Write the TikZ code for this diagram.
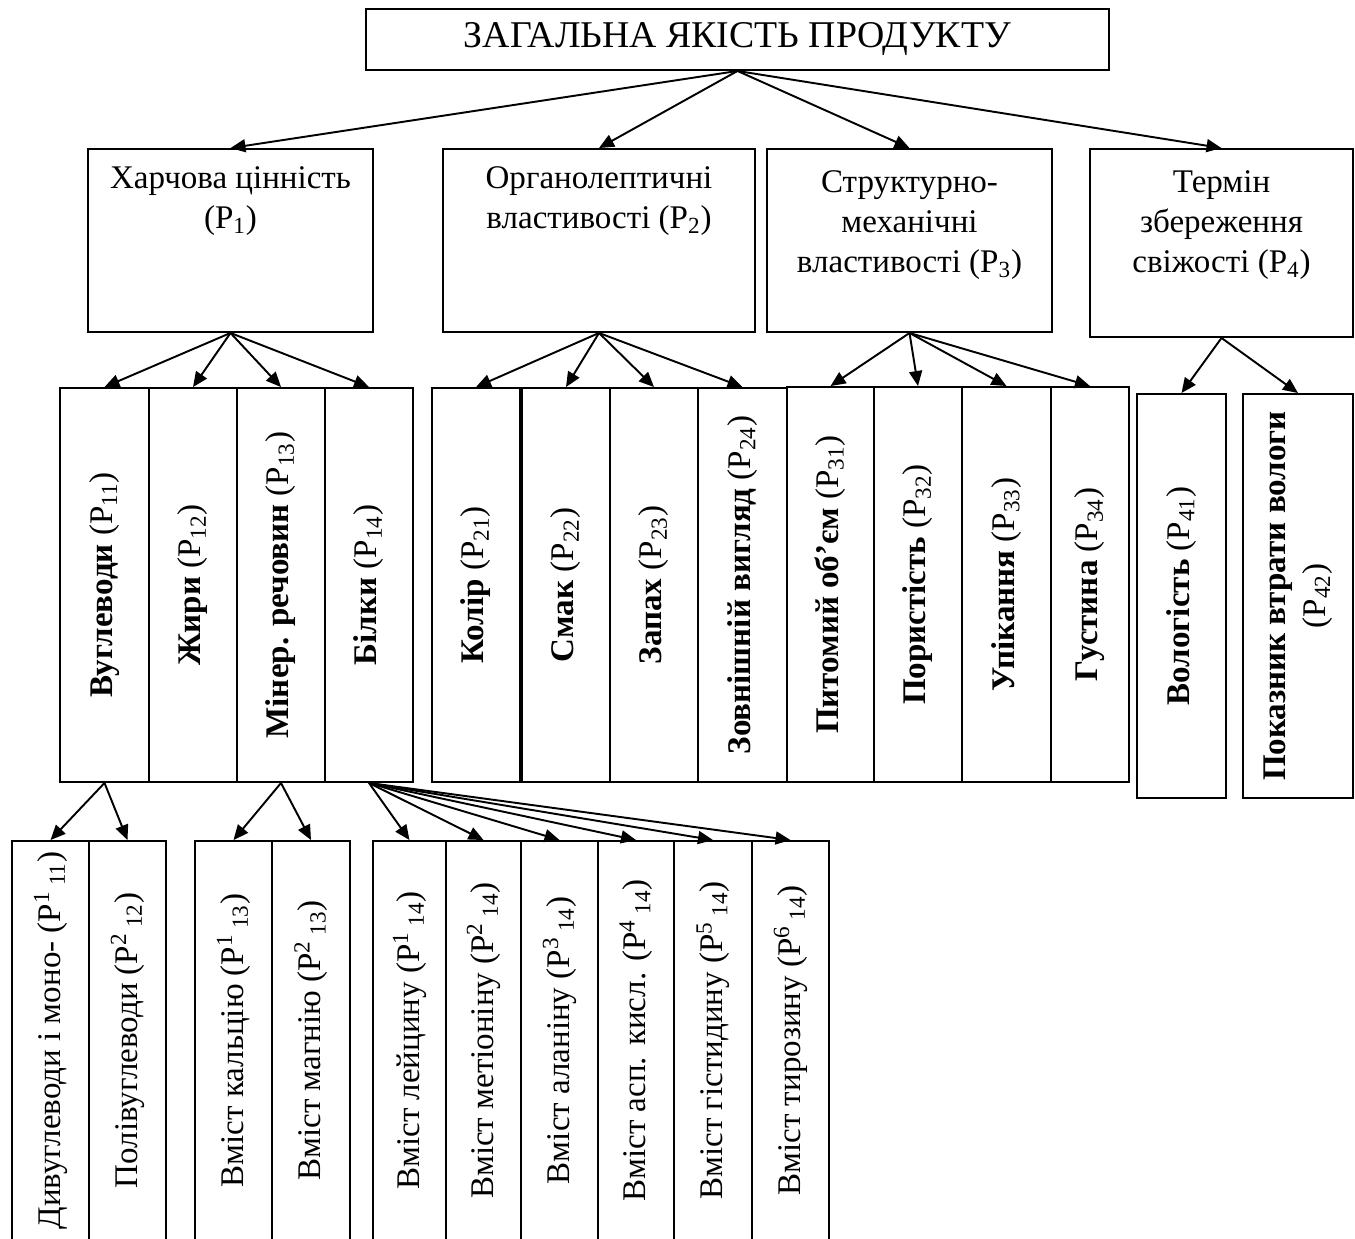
\documentclass[tikz,border=0pt]{standalone}
\usepackage{fontspec}
\setmainfont{Liberation Serif}
\usepackage{tikz}
\usetikzlibrary{arrows.meta, positioning, fit}
\tikzset{
  block/.style={rectangle, draw=black, line width=1.1pt, inner sep=0pt},
  txt/.style={inner sep=0pt, align=center, font=\fontsize{18.8}{22.8}\selectfont},
  vtxt/.style={txt, rotate=90},
  arrow/.style={-{Triangle[length=0.3cm, width=0.26cm]}, line width=1.1pt}
}

\begin{document}
\begin{tikzpicture}[x=0.02cm, y=-0.02cm]
  \clip (0,0) rectangle (1355,1238);

  % Top
  \node[block, fit={(366,9) (1109,70)}] (top) {};
  \node[txt, font=\fontsize{21.5}{26}\selectfont] (topt) at (top) {ЗАГАЛЬНА ЯКІСТЬ ПРОДУКТУ};

  % Groups of properties
  \node[block, fit={(88,149) (373,332)}] (p1) {};
  \node[block, fit={(443,149) (755,332)}] (p2) {};
  \node[block, fit={(767,149) (1052,332)}] (p3) {};
  \node[block, fit={(1090,149) (1353,337)}] (p4) {};
  \node[txt, below=0.36cm of p1.north] (p1t) {Харчова цінність\\(P\textsubscript{1})};
  \node[txt, below=0.36cm of p2.north] (p2t) {Органолептичні\\властивості (P\textsubscript{2})};
  \node[txt, below=0.44cm of p3.north] (p3t) {Структурно-\\механічні\\властивості (P\textsubscript{3})};
  \node[txt, below=0.44cm of p4.north] (p4t) {Термін\\збереження\\свіжості (P\textsubscript{4})};

  % Single properties
  \node[block, fit={(60,388) (149,782)}] (p11) {};
  \node[block, fit={(149,388) (237,782)}] (p12) {};
  \node[block, fit={(237,388) (325,782)}] (p13) {};
  \node[block, fit={(325,388) (413,782)}] (p14) {};
  \node[block, fit={(432,388) (520,782)}] (p21) {};
  \node[block, fit={(522,388) (610,782)}] (p22) {};
  \node[block, fit={(610,388) (698,782)}] (p23) {};
  \node[block, fit={(698,388) (787,782)}] (p24) {};
  \node[block, fit={(787,387) (874,782)}] (p31) {};
  \node[block, fit={(874,387) (962,782)}] (p32) {};
  \node[block, fit={(962,387) (1051,782)}] (p33) {};
  \node[block, fit={(1051,387) (1129,782)}] (p34) {};
  \node[block, fit={(1137,394) (1226,798)}] (p41) {};
  \node[block, fit={(1243,394) (1353,798)}] (p42) {};
  \node[vtxt] (p11t) at (p11) {\textbf{Вуглеводи} (P\textsubscript{11})};
  \node[vtxt] (p12t) at (p12) {\textbf{Жири} (P\textsubscript{12})};
  \node[vtxt] (p13t) at (p13) {\textbf{Мінер. речовин} (P\textsubscript{13})};
  \node[vtxt] (p14t) at (p14) {\textbf{Білки} (P\textsubscript{14})};
  \node[vtxt] (p21t) at (p21) {\textbf{Колір} (P\textsubscript{21})};
  \node[vtxt] (p22t) at (p22) {\textbf{Смак} (P\textsubscript{22})};
  \node[vtxt] (p23t) at (p23) {\textbf{Запах} (P\textsubscript{23})};
  \node[vtxt] (p24t) at (p24) {\textbf{Зовнішній вигляд} (P\textsubscript{24})};
  \node[vtxt] (p31t) at (p31) {\textbf{Питомий об’єм} (P\textsubscript{31})};
  \node[vtxt] (p32t) at (p32) {\textbf{Пористість} (P\textsubscript{32})};
  \node[vtxt] (p33t) at (p33) {\textbf{Упікання} (P\textsubscript{33})};
  \node[vtxt] (p34t) at (p34) {\textbf{Густина} (P\textsubscript{34})};
  \node[vtxt] (p41t) at (p41) {\textbf{Вологість} (P\textsubscript{41})};
  \node[vtxt] (p42t) at (p42) {\textbf{Показник втрати вологи}\\(P\textsubscript{42})};

  % Indicators
  \node[block, fit={(12,841) (89,1240)}] (p111) {};
  \node[block, fit={(89,841) (166,1240)}] (p112) {};
  \node[block, fit={(195,841) (272,1240)}] (p131) {};
  \node[block, fit={(272,841) (350,1240)}] (p132) {};
  \node[block, fit={(373,841) (446,1240)}] (p141) {};
  \node[block, fit={(446,841) (521,1240)}] (p142) {};
  \node[block, fit={(521,841) (598,1240)}] (p143) {};
  \node[block, fit={(598,841) (674,1240)}] (p144) {};
  \node[block, fit={(674,841) (752,1240)}] (p145) {};
  \node[block, fit={(752,841) (829,1240)}] (p146) {};
  \node[vtxt] (p111t) at (p111) {Дивуглеводи і моно- (P\textsuperscript{1}\,\textsubscript{11})};
  \node[vtxt] (p112t) at (p112) {Полівуглеводи (P\textsuperscript{2}\,\textsubscript{12})};
  \node[vtxt] (p131t) at (p131) {Вміст кальцію (P\textsuperscript{1}\,\textsubscript{13})};
  \node[vtxt] (p132t) at (p132) {Вміст магнію (P\textsuperscript{2}\,\textsubscript{13})};
  \node[vtxt] (p141t) at (p141) {Вміст лейцину (P\textsuperscript{1}\,\textsubscript{14})};
  \node[vtxt] (p142t) at (p142) {Вміст метіоніну (P\textsuperscript{2}\,\textsubscript{14})};
  \node[vtxt] (p143t) at (p143) {Вміст аланіну (P\textsuperscript{3}\,\textsubscript{14})};
  \node[vtxt] (p144t) at (p144) {Вміст асп. кисл. (P\textsuperscript{4}\,\textsubscript{14})};
  \node[vtxt] (p145t) at (p145) {Вміст гістидину (P\textsuperscript{5}\,\textsubscript{14})};
  \node[vtxt] (p146t) at (p146) {Вміст тирозину (P\textsuperscript{6}\,\textsubscript{14})};

  % Arrows
  \draw[arrow] (top.south) -- (p1.north);
  \draw[arrow] (top.south) -- (p2.north);
  \draw[arrow] (top.south) -- (p3.north);
  \draw[arrow] (top.south) -- (p4.north);

  \draw[arrow] (p1.south) -- (p11.north);
  \draw[arrow] (p1.south) -- (p12.north);
  \draw[arrow] (p1.south) -- (p13.north);
  \draw[arrow] (p1.south) -- (p14.north);
  \draw[arrow] (p2.south) -- (p21.north);
  \draw[arrow] (p2.south) -- (p22.north);
  \draw[arrow] (p2.south) -- (p23.north);
  \draw[arrow] (p2.south) -- (p24.north);
  \draw[arrow] (p3.south) -- (p31.north);
  \draw[arrow] (p3.south) -- (p32.north);
  \draw[arrow] (p3.south) -- (p33.north);
  \draw[arrow] (p3.south) -- (p34.north);
  \draw[arrow] (p4.south) -- (p41.north);
  \draw[arrow] (p4.south) -- (p42.north);

  \draw[arrow] (p11.south) -- (p111.north);
  \draw[arrow] (p11.south) -- (p112.north);
  \draw[arrow] (p13.south) -- (p131.north);
  \draw[arrow] (p13.south) -- (p132.north);
  \draw[arrow] (p14.south) -- (p141.north);
  \draw[arrow] (p14.south) -- (p142.north);
  \draw[arrow] (p14.south) -- (p143.north);
  \draw[arrow] (p14.south) -- (p144.north);
  \draw[arrow] (p14.south) -- (p145.north);
  \draw[arrow] (p14.south) -- (p146.north);
\end{tikzpicture}
\end{document}
